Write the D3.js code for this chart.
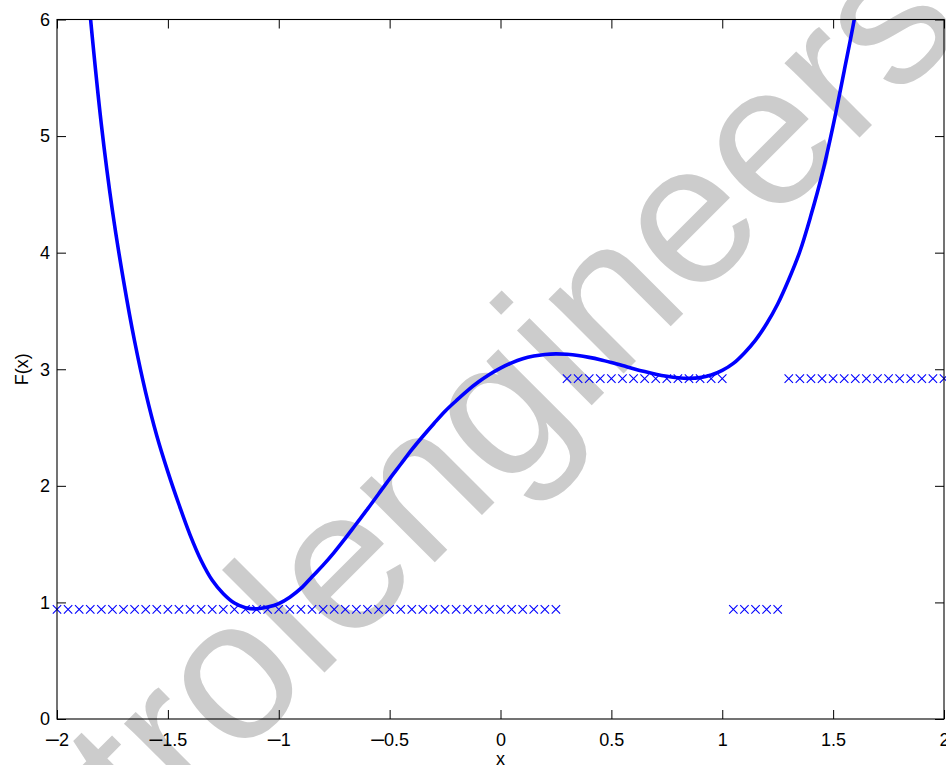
<!DOCTYPE html>
<html>
<head>
<meta charset="utf-8">
<script src="https://cdn.jsdelivr.net/npm/d3@7"></script>
<style>
  body { margin: 0; background: #fff; }
  svg { display: block; font-family: "Liberation Sans", Arial, Helvetica, sans-serif; }
</style>
</head>
<body>
<div id="chart"></div>
<script>
//* data
var curveX = [-1.90, -1.85, -1.80, -1.75, -1.70, -1.65, -1.60, -1.55, -1.50, -1.45, -1.40, -1.35, -1.30, -1.25, -1.20, -1.15,
    -1.10, -1.05, -1.00, -0.95, -0.90, -0.85, -0.80, -0.75, -0.70, -0.65, -0.60, -0.55, -0.50, -0.45, -0.40, -0.35,
    -0.30, -0.25, -0.20, -0.15, -0.10, -0.05, 0.00, 0.05, 0.10, 0.15, 0.20, 0.25, 0.30, 0.35, 0.40, 0.45, 0.50,
    0.55, 0.60, 0.65, 0.70, 0.75, 0.80, 0.85, 0.90, 0.95, 1.00, 1.05, 1.10, 1.15, 1.20, 1.25, 1.30, 1.35, 1.40,
    1.45, 1.50, 1.55, 1.60, 1.65]
var curveF = [7.10, 6.03, 5.10, 4.36, 3.76, 3.24, 2.80, 2.43, 2.12, 1.84, 1.58, 1.36, 1.19, 1.075, 0.995, 0.955,
    0.945, 0.96, 0.99, 1.045, 1.12, 1.22, 1.32, 1.43, 1.55, 1.675, 1.80, 1.93, 2.06, 2.185, 2.31, 2.425,
    2.535, 2.64, 2.73, 2.815, 2.89, 2.955, 3.01, 3.055, 3.09, 3.113, 3.127, 3.132, 3.128, 3.118, 3.102, 3.082, 3.058,
    3.032, 3.005, 2.98, 2.958, 2.94, 2.927, 2.922, 2.928, 2.95, 2.99, 3.05, 3.14, 3.25, 3.39, 3.56, 3.77, 4.01, 4.32,
    4.67, 5.09, 5.56, 6.05, 6.65]

// start points that end in the low minimum / in the high minimum
var lowStartX = [-2, -1.95, -1.9, -1.85, -1.8, -1.75, -1.7, -1.65, -1.6, -1.55, -1.5, -1.45, -1.4, -1.35, -1.3, -1.25,
    -1.2, -1.15, -1.1, -1.05, -1, -0.95, -0.9, -0.85, -0.8, -0.75, -0.7, -0.65, -0.6, -0.55, -0.5, -0.45, -0.4,
    -0.35, -0.3, -0.25, -0.2, -0.15, -0.1, -0.05, 0, 0.05, 0.1, 0.15, 0.2, 0.25, 1.05, 1.1, 1.15, 1.2, 1.25]
var highStartX = [0.3, 0.35, 0.4, 0.45, 0.5, 0.55, 0.6, 0.65, 0.7, 0.75, 0.8, 0.85, 0.9, 0.95, 1.0,
    1.3, 1.35, 1.4, 1.45, 1.5, 1.55, 1.6, 1.65, 1.7, 1.75, 1.8, 1.85, 1.9, 1.95, 2.0]
var lowMin = 0.94
var highMin = 2.92

var xTicks = [-2, -1.5, -1, -0.5, 0, 0.5, 1, 1.5, 2]
var yTicks = [0, 1, 2, 3, 4, 5, 6]

var W = 946, H = 765
var x = d3.scaleLinear().domain([-2, 2]).range([57, 944])
var y = d3.scaleLinear().domain([0, 6]).range([719, 19.5])

var svg = d3.select("#chart").append("svg").attr("width", W).attr("height", H)

//? watermark, behind everything
svg.append("text").text("petrolengineers")
    .attr("transform", "translate(480,517) rotate(-45)")
    .attr("text-anchor", "middle")
    .style("font-size", "200px")
    .style("fill", "#cccccc")

svg.append("clipPath").attr("id", "plotclip").append("rect")
    .attr("x", x(-2)).attr("y", y(6)).attr("width", x(2) - x(-2)).attr("height", y(0) - y(6))

var plot = svg.append("g").attr("clip-path", "url(#plotclip)")

var pts = curveX.map(function(v, i) { return [v, curveF[i]] })
var line = d3.line().x(function(d) { return x(d[0]) }).y(function(d) { return y(d[1]) }).curve(d3.curveCatmullRom)

plot.append("path").datum(pts)
    .attr("d", line)
    .attr("fill", "none")
    .attr("stroke", "#0000ff")
    .attr("stroke-width", 3.6)
    .attr("stroke-linejoin", "round")

var marks = lowStartX.map(function(v) { return [v, lowMin] })
    .concat(highStartX.map(function(v) { return [v, highMin] }))

var s = 4.2
svg.append("g").selectAll("path").data(marks).enter().append("path")
    .attr("transform", function(d) { return "translate(" + x(d[0]) + "," + y(d[1]) + ")" })
    .attr("d", "M" + -s + "," + -s + "L" + s + "," + s + "M" + -s + "," + s + "L" + s + "," + -s)
    .attr("stroke", "#0000ff")
    .attr("stroke-width", 1.1)
    .attr("fill", "none")

//* axes
var gx = svg.append("g").attr("transform", "translate(0," + y(0) + ")")
    .call(d3.axisBottom(x).tickValues(xTicks).tickSizeInner(-9).tickSizeOuter(0).tickPadding(14))
var gy = svg.append("g").attr("transform", "translate(" + x(-2) + ",0)")
    .call(d3.axisLeft(y).tickValues(yTicks).tickSizeInner(-9).tickSizeOuter(0).tickPadding(7).tickFormat(d3.format("d")))
var gt = svg.append("g").attr("transform", "translate(0," + y(6) + ")")
    .call(d3.axisTop(x).tickValues(xTicks).tickSizeInner(-9).tickSizeOuter(0).tickFormat(""))
var gr = svg.append("g").attr("transform", "translate(" + x(2) + ",0)")
    .call(d3.axisRight(y).tickValues(yTicks).tickSizeInner(-9).tickSizeOuter(0).tickFormat(""))

svg.selectAll(".domain").remove()
svg.selectAll(".tick line").attr("stroke", "#000").attr("stroke-width", 1)
svg.selectAll(".tick text").style("font-size", "18px").attr("fill", "#000").attr("font-family", null)

//? matlab draws a long minus, done with a bigger en dash
gx.selectAll(".tick text").each(function(d) {
    var t = d3.select(this)
    t.text(null)
    if (d < 0) t.append("tspan").text("\u2013").style("font-size", "23px")
    t.append("tspan").text(String(Math.abs(d)))
})

svg.append("rect")
    .attr("x", x(-2)).attr("y", y(6)).attr("width", x(2) - x(-2)).attr("height", y(0) - y(6))
    .attr("fill", "none").attr("stroke", "#000").attr("stroke-width", 1.1)

svg.append("text").text("x")
    .attr("x", x(0)).attr("y", 765)
    .attr("text-anchor", "middle")
    .style("font-size", "18px")

svg.append("text").text("F(x)")
    .attr("transform", "translate(28," + y(3) + ") rotate(-90)")
    .attr("text-anchor", "middle")
    .style("font-size", "18px")
</script>
</body>
</html>
